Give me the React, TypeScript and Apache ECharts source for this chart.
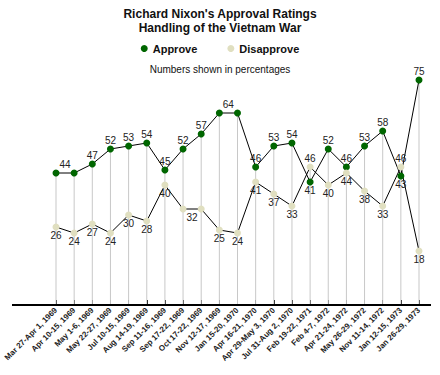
import React, { useEffect, useRef } from "react";
import * as echarts from "echarts";

const categories = [
  "Mar 27-Apr 1, 1969",
  "Apr 10-15, 1969",
  "May 1-6, 1969",
  "May 22-27, 1969",
  "Jul 10-15, 1969",
  "Aug 14-19, 1969",
  "Sep 11-16, 1969",
  "Sep 17-22, 1969",
  "Oct 17-22, 1969",
  "Nov 12-17, 1969",
  "Jan 15-20, 1970",
  "Apr 16-21, 1970",
  "Apr 29-May 3, 1970",
  "Jul 31-Aug 2, 1970",
  "Feb 19-22, 1971",
  "Feb 4-7, 1972",
  "Apr 21-24, 1972",
  "May 26-29, 1972",
  "Nov 11-14, 1972",
  "Jan 12-15, 1973",
  "Jan 26-29, 1973",
];

const approve = [44, 44, 47, 52, 53, 54, 45, 52, 57, 64, 64, 46, 53, 54, 41, 52, 46, 53, 58, 43, 75];
const disapprove = [26, 24, 27, 24, 30, 28, 40, 32, 32, 25, 24, 41, 37, 33, 46, 40, 44, 38, 33, 46, 18];

const FONT = "'Liberation Sans', Arial, Helvetica, sans-serif";
const GREEN = "#006600";
const BEIGE = "#e0dfc0";

function buildData(vals: number[], other: number[]) {
  return vals.map((v, i) => {
    const above = v >= other[i];
    const label: any = { position: above ? "top" : "bottom" };
    if (i > 0 && vals[i - 1] === v) label.show = false;
    else if (i < vals.length - 1 && vals[i + 1] === v) label.offset = [9, 0];
    return { value: v, label };
  });
}

export default function App() {
  const ref = useRef<HTMLDivElement>(null);
  useEffect(() => {
    if (!ref.current) return;
    const chart = echarts.init(ref.current, undefined, { renderer: "svg" });
    const stems = approve.map((a, i) => Math.max(a, disapprove[i]));
    const labelStyle = {
      show: true,
      fontSize: 10,
      fontFamily: FONT,
      color: "#222",
      distance: 0,
    };
    chart.setOption({
      animation: false,
      backgroundColor: "#ffffff",
      title: [
        {
          text: "Richard Nixon's Approval Ratings\nHandling of the Vietnam War",
          left: "center",
          top: 2,
          textStyle: {
            fontFamily: FONT,
            fontSize: 12,
            fontWeight: "bold",
            color: "#111",
            lineHeight: 14,
          },
        },
        {
          text: "Numbers shown in percentages",
          left: "center",
          top: 59,
          textStyle: {
            fontFamily: FONT,
            fontSize: 10,
            fontWeight: "normal",
            color: "#111",
          },
        },
      ],
      legend: {
        data: ["Approve", "Disapprove"],
        top: 38,
        left: "center",
        icon: "circle",
        itemWidth: 7,
        itemHeight: 7,
        itemGap: 30,
        textStyle: { fontFamily: FONT, fontSize: 11, fontWeight: "bold", color: "#111" },
      },
      grid: { left: 56, right: 21, top: 65, bottom: 70 },
      xAxis: {
        type: "category",
        data: categories,
        boundaryGap: false,
        axisLine: { show: false },
        axisTick: { show: true, inside: true, length: 5, lineStyle: { color: "#000", width: 1 } },
        axisLabel: {
          interval: 0,
          rotate: 45,
          fontSize: 8,
          fontWeight: "bold",
          fontFamily: FONT,
          color: "#222",
          margin: 4,
        },
        splitLine: { show: false },
      },
      yAxis: { type: "value", min: 0, max: 80, show: false },
      graphic: [
        {
          type: "line",
          shape: { x1: 12, y1: 305, x2: 431, y2: 305 },
          style: { stroke: "#000", lineWidth: 2 },
          z: 10,
        },
      ],
      series: [
        {
          name: "stems",
          type: "bar",
          data: stems,
          barWidth: 1,
          itemStyle: { color: "#c8c8c8" },
          silent: true,
          z: 1,
        },
        {
          name: "Approve",
          type: "line",
          data: buildData(approve, disapprove),
          symbol: "circle",
          symbolSize: 7,
          itemStyle: { color: GREEN },
          lineStyle: { color: "#000", width: 1 },
          label: labelStyle,
          z: 3,
        },
        {
          name: "Disapprove",
          type: "line",
          data: buildData(disapprove, approve),
          symbol: "circle",
          symbolSize: 7,
          itemStyle: { color: BEIGE },
          lineStyle: { color: "#000", width: 1 },
          label: labelStyle,
          z: 3,
        },
      ],
    });
    return () => chart.dispose();
  }, []);
  return (
    <div
      ref={ref}
      style={{ position: "fixed", left: 0, top: 0, width: 440, height: 375 }}
    />
  );
}
